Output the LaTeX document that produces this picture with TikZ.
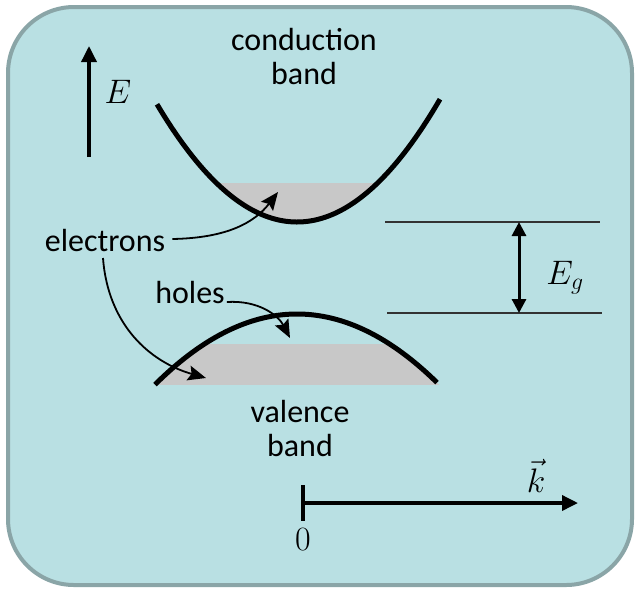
\RequirePackage{fix-cm}
\documentclass[tikz,border=0pt]{standalone}
\usepackage{fontspec}
\setmainfont{Carlito}
\usetikzlibrary{arrows.meta}
\definecolor{bgfill}{HTML}{B9E0E3}
\definecolor{bgline}{HTML}{8AA5A7}
\definecolor{gapgrey}{HTML}{C8C8C8}
\definecolor{thinline}{HTML}{333333}
\tikzset{
  lbl/.style={font=\fontsize{32}{34}\selectfont, align=center, inner sep=0pt},
  mlbl/.style={font=\fontsize{34}{40}\selectfont, inner sep=0pt},
  band/.style={line width=5pt},
  pointer/.style={line width=1.8pt, -{Stealth[length=18pt,width=15pt,inset=3pt]}},
  axisarrow/.style={line width=3.5pt, -{Triangle[length=16pt,width=15pt]}},
  gaparrow/.style={line width=3pt, {Triangle[length=14pt,width=14pt]}-{Triangle[length=14pt,width=14pt]}},
  levelline/.style={line width=1.2pt, thinline}
}
\begin{document}
\begin{tikzpicture}[x=1pt,y=-1pt]
\useasboundingbox (0,0) rectangle (636,590);
\draw[bgline, fill=bgfill, line width=4pt, rounded corners=66pt] (8,7) rectangle (632,585);

% grey fills
\begin{scope}
  \clip (0,183) rectangle (636,240);
  \fill[gapgrey] plot[domain=200:396, samples=60] (\x, {222-(0.0775*(\x-297))^2}) -- cycle;
\end{scope}
\begin{scope}
  \clip (0,344) rectangle (636,384);
  \fill[gapgrey] plot[domain=140:455, samples=60] (\x, {314+(0.05916*(\x-297))^2}) -- cycle;
\end{scope}

% bands
\draw[band] plot[domain=157:440, samples=80] (\x, {222-(0.0775*(\x-297))^2});
\draw[band] plot[domain=155:437, samples=80] (\x, {314+(0.05916*(\x-297))^2});

% energy axis
\coordinate (ebot) at (89,157);
\coordinate (etop) at (89,46);
\draw[axisarrow] (ebot) -- (etop);
\node[mlbl] (elab) at (118,92) {$E$};

% labels
\node[lbl] (cond) at (304,57) {conduction\\band};
\node[lbl] (val) at (300,428) {valence\\band};
\node[lbl] (elec) at (105,240) {electrons};
\node[lbl] (holes) at (190,292) {holes};

% pointers
\coordinate (eup) at (278,192);
\coordinate (edown) at (206,378);
\coordinate (hpt) at (290,338);
\draw[pointer] ([xshift=7pt,yshift=1pt]elec.east) .. controls (228,238) and (255,222) .. (eup);
\draw[pointer] (103,258) .. controls (108,325) and (150,362) .. (edown);
\draw[pointer] ([xshift=2pt,yshift=-10pt]holes.east) .. controls (258,300) and (278,315) .. (hpt);

% gap
\coordinate (ct1) at (385,222);
\coordinate (ct2) at (600,222);
\coordinate (vt1) at (387,313);
\coordinate (vt2) at (602,313);
\draw[levelline] (ct1) -- (ct2);
\draw[levelline] (vt1) -- (vt2);
\coordinate (ga) at (519,222);
\coordinate (gb) at (519,313);
\draw[gaparrow] (ga) -- (gb);
\node[mlbl] (eg) at (565,278) {$E_g$};

% k axis
\coordinate (k0) at (303,503);
\coordinate (kend) at (578,503);
\coordinate (tt) at (303,485);
\coordinate (tb) at (303,521);
\draw[line width=4.5pt] (tt) -- (tb);
\draw[axisarrow] (k0) -- (kend);
\node[mlbl] (zero) at (303,540) {$0$};
\node[mlbl] (klab) at (536,476) {$\vec{k}$};
\end{tikzpicture}
\end{document}
